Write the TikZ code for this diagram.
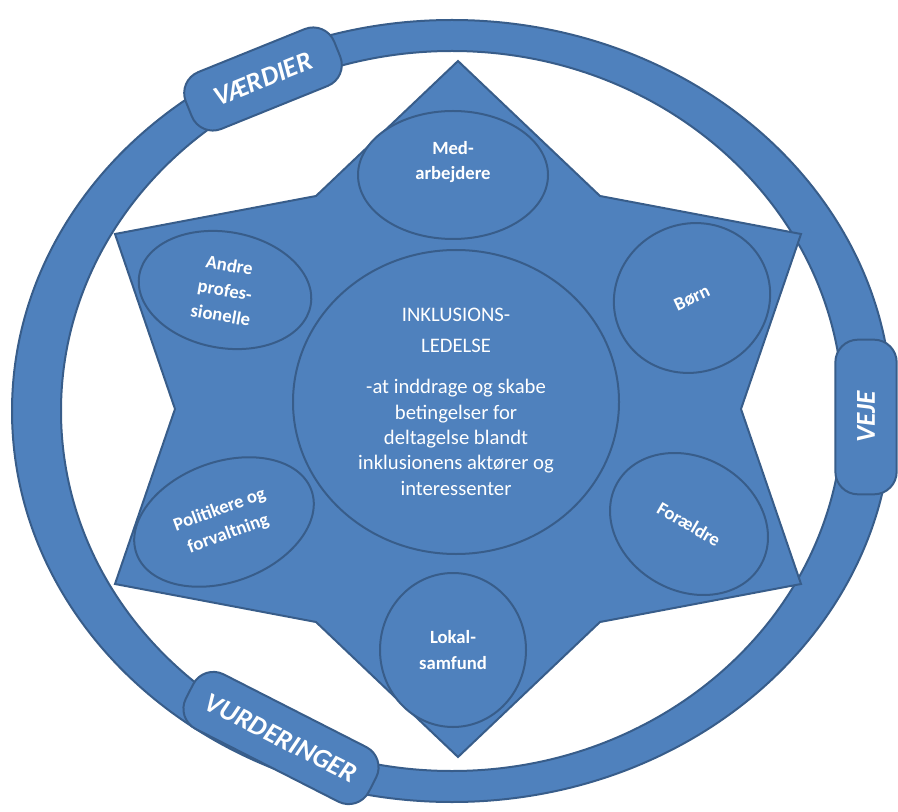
\documentclass[tikz,border=0pt]{standalone}
\usepackage{fontspec}
\setmainfont{Carlito}
\usepackage{tikz}
\usetikzlibrary{shapes.geometric}
\definecolor{ILblue}{RGB}{79,129,189}
\definecolor{ILline}{RGB}{56,93,138}

\tikzset{
  part/.style={ellipse,draw=ILline,fill=ILblue,line width=1.5pt,inner sep=0pt,
    text=white,align=center,font=\bfseries\fontsize{14}{19}\selectfont},
  tag/.style={rectangle,rounded corners=17pt,draw=ILline,fill=ILblue,line width=1.5pt,
    inner sep=0pt,minimum height=46pt,text=white,font=\bfseries\itshape\fontsize{20.5}{24}\selectfont}
}

\begin{document}
\begin{tikzpicture}[x=0.75pt,y=0.75pt]
    \useasboundingbox (0,0) rectangle (898,-812);
    % outer ring
    \draw[ILline,fill=ILblue,line width=1.5pt,even odd rule]
      (452,-411) ellipse [x radius=440,y radius=391]
      (452,-411) ellipse [x radius=391,y radius=360];
    \node[tag,rotate=22,minimum width=120pt] (vaerdier) at (263,-79) {VÆRDIER};
    \node[tag,rotate=90,minimum width=116pt] (veje) at (866,-417) {VEJE};
    \node[tag,rotate=-27,minimum width=154pt] (vurderinger) at (281,-738) {VURDERINGER};
    % the star
    \draw[ILline,fill=ILblue,line width=1.5pt]
      (458,-61) -- (600,-196) -- (801,-234) -- (741,-409) -- (801,-584) -- (600,-622)
      -- (458,-757) -- (316,-622) -- (115,-584) -- (175,-409) -- (115,-234) -- (316,-196) -- cycle;
    % actors
    \node[part,minimum width=142.5pt,minimum height=96pt,text depth=22pt] (medarb) at (453,-175) {Med-\\arbejdere};
    \node[part,rotate=-10,minimum width=130.5pt,minimum height=87pt] (andre) at (225,-290) {Andre\\profes-\\sionelle};
    \node[part,rotate=20,minimum width=139.5pt,minimum height=90pt] (politik) at (224,-522) {Politikere og\\forvaltning};
    \node[part,rotate=25,minimum width=118.5pt,minimum height=111pt] (boern) at (692,-298) {Børn};
    \node[part,rotate=-30,minimum width=124pt,minimum height=100pt] (foraeldre) at (689,-524) {Forældre};
    \node[part,minimum width=109.5pt,minimum height=115.5pt] (lokal) at (453,-650) {Lokal-\\samfund};
    % center
    \node[part,minimum width=244.5pt,minimum height=228pt,font=\fontsize{15.5}{19}\selectfont] (ledelse) at (456,-402)
      {INKLUSIONS-\\[4pt]LEDELSE\\[12pt]-at inddrage og skabe\\betingelser for\\deltagelse blandt\\inklusionens aktører og\\interessenter};
\end{tikzpicture}
\end{document}
